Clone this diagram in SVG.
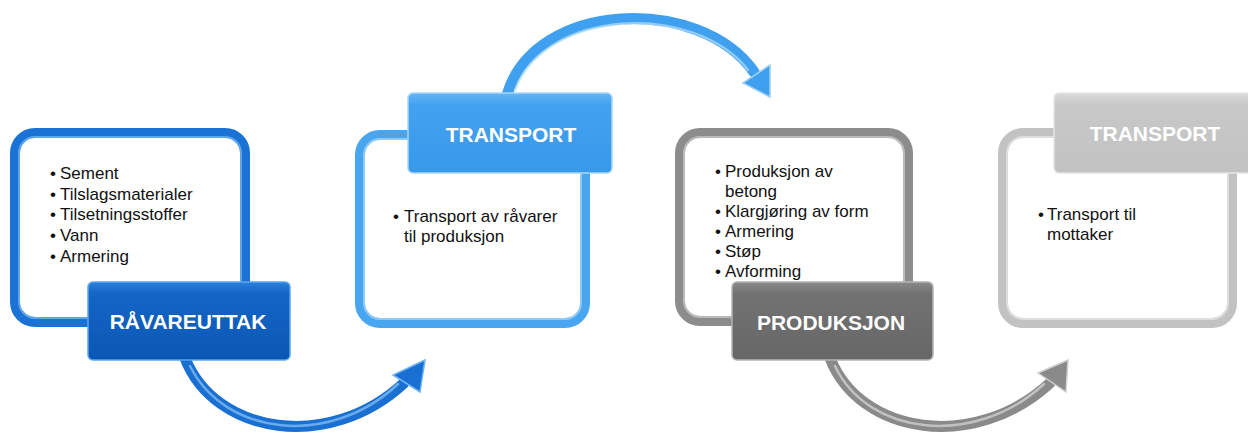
<svg xmlns="http://www.w3.org/2000/svg" width="1248" height="436" viewBox="0 0 1248 436">
<defs>
<linearGradient id="gLab1" x1="0" y1="0" x2="0" y2="1"><stop offset="0" stop-color="#2a7fdc"/><stop offset="0.15" stop-color="#1465c6"/><stop offset="1" stop-color="#0b57b4"/></linearGradient>
<linearGradient id="gLab2" x1="0" y1="0" x2="0" y2="1"><stop offset="0" stop-color="#62b6f6"/><stop offset="0.15" stop-color="#43a2f0"/><stop offset="1" stop-color="#3898ea"/></linearGradient>
<linearGradient id="gLab3" x1="0" y1="0" x2="0" y2="1"><stop offset="0" stop-color="#8a8a8a"/><stop offset="0.15" stop-color="#727272"/><stop offset="1" stop-color="#676767"/></linearGradient>
<linearGradient id="gLab4" x1="0" y1="0" x2="0" y2="1"><stop offset="0" stop-color="#dadada"/><stop offset="0.15" stop-color="#c8c8c8"/><stop offset="1" stop-color="#c2c2c2"/></linearGradient>
</defs>
<style>
.frame{fill:#ffffff;stroke-width:10}
.hl{fill:none;stroke-width:2;opacity:0.6}
.lab{stroke-width:1.5}
.ltxt{font-family:"Liberation Sans",Arial,sans-serif;font-weight:bold;font-size:21px;fill:#ffffff;text-anchor:middle}
.body{font-family:"Liberation Sans",Arial,sans-serif;font-size:17px;fill:#111111}
.arr{fill:none;stroke-width:11;stroke-linecap:round}
.ahl{fill:none;stroke-width:2.5;stroke-linecap:round;opacity:0.7}
</style>
<g id="connectors">
<path class="arr" stroke="#1a6fd2" d="M185,358 C215,435 330,452 404,383"/>
<path class="ahl" stroke="#8cc4f5" d="M190,366 C225,436 330,448 398,384"/>
<polygon points="425,360 393,375 420,392" fill="#1a6fd2" stroke="#6fb4f2" stroke-width="1.5"/>
<path class="arr" stroke="#3ea0ee" d="M507,95 C535,0 700,-5 754,72"/>
<path class="ahl" stroke="#b8defb" d="M515,90 C545,8 695,2 748,70"/>
<polygon points="770,97 743,83 770,65" fill="#3ea0ee" stroke="#9cd0f8" stroke-width="1.5"/>
<path class="arr" stroke="#8a8a8a" d="M830,358 C860,435 975,452 1050,383"/>
<path class="ahl" stroke="#d8d8d8" d="M835,366 C868,436 975,448 1044,384"/>
<polygon points="1068,360 1038,373 1066,392" fill="#8a8a8a" stroke="#d0d0d0" stroke-width="1.5"/>
</g>
<g id="node-ravareuttak">
<rect class="frame" x="15" y="133" width="230" height="189" rx="20" stroke="#1a72d4"/>
<rect class="hl" x="19" y="137" width="222" height="181" rx="16" stroke="#8cc8f8"/>
<text class="body"><tspan x="50" y="179">•</tspan><tspan x="60" y="179">Sement</tspan><tspan x="50" y="199.7">•</tspan><tspan x="60" y="199.7">Tilslagsmaterialer</tspan><tspan x="50" y="220.4">•</tspan><tspan x="60" y="220.4">Tilsetningsstoffer</tspan><tspan x="50" y="241">•</tspan><tspan x="60" y="241">Vann</tspan><tspan x="50" y="261.8">•</tspan><tspan x="60" y="261.8">Armering</tspan></text>
<rect class="lab" x="88" y="282" width="202" height="78" rx="5" fill="url(#gLab1)" stroke="#5aa6ee"/>
<text class="ltxt" x="188" y="329">RÅVAREUTTAK</text>
</g>
<g id="node-transport1">
<rect class="frame" x="360" y="135" width="225" height="188" rx="20" stroke="#48a6f0"/>
<rect class="hl" x="364" y="139" width="217" height="180" rx="16" stroke="#c0e2fc"/>
<text class="body"><tspan x="393" y="222">•</tspan><tspan x="404" y="222">Transport av råvarer</tspan><tspan x="404" y="242">til produksjon</tspan></text>
<rect class="lab" x="408" y="93" width="204" height="80" rx="5" fill="url(#gLab2)" stroke="#a8d6fa"/>
<text class="ltxt" x="511" y="141.5">TRANSPORT</text>
</g>
<g id="node-produksjon">
<rect class="frame" x="680" y="133" width="228" height="188" rx="20" stroke="#8c8c8c"/>
<rect class="hl" x="684" y="137" width="220" height="180" rx="16" stroke="#d8d8d8"/>
<text class="body"><tspan x="715" y="177">•</tspan><tspan x="725" y="177">Produksjon av</tspan><tspan x="725" y="197">betong</tspan><tspan x="715" y="217">•</tspan><tspan x="725" y="217">Klargjøring av form</tspan><tspan x="715" y="237">•</tspan><tspan x="725" y="237">Armering</tspan><tspan x="715" y="257">•</tspan><tspan x="725" y="257">Støp</tspan><tspan x="715" y="277">•</tspan><tspan x="725" y="277">Avforming</tspan></text>
<rect class="lab" x="732" y="282" width="201" height="78" rx="5" fill="url(#gLab3)" stroke="#b4b4b4"/>
<text class="ltxt" x="831" y="330">PRODUKSJON</text>
</g>
<g id="node-transport2">
<rect class="frame" x="1003" y="133" width="229" height="190" rx="20" stroke="#c2c2c2"/>
<rect class="hl" x="1007" y="137" width="221" height="182" rx="16" stroke="#eeeeee"/>
<text class="body"><tspan x="1038" y="220">•</tspan><tspan x="1047" y="220">Transport til</tspan><tspan x="1047" y="240">mottaker</tspan></text>
<rect class="lab" x="1054" y="93" width="204" height="80" rx="5" fill="url(#gLab4)" stroke="#e6e6e6"/>
<text class="ltxt" x="1155" y="141">TRANSPORT</text>
</g>
</svg>
